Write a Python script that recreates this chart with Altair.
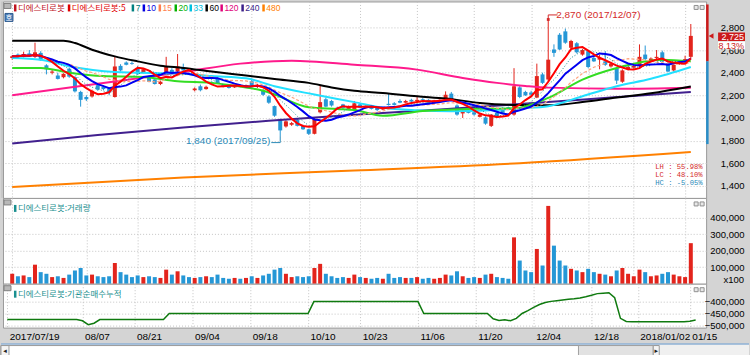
import altair as alt
import pandas as pd

# ---------------- data ----------------
opens = [2530,2560,2540,2570,2540,2575,2465,2400,2375,2360,
         2435,2360,2230,2185,2190,2290,2275,2260,2185,2460,
         2490,2485,2440,2405,2365,2340,2300,2390,2425,2410,
         2450,2425,2245,2280,2255,2315,2345,2290,2285,2270,
         2290,2275,2325,2275,2245,2190,2105,1985,1925,1940,
         1985,1930,1900,1860,2050,2165,2150,2090,2120,2080,
         2070,2120,2090,2100,2095,2075,2125,2130,2150,2135,
         2160,2150,2165,2160,2130,2140,2175,2215,2110,2040,
         2055,2050,2010,2005,1930,2045,2090,2095,2030,2270,
         2230,2225,2180,2385,2340,2605,2735,2765,2620,2660,
         2560,2590,2530,2515,2500,2455,2440,2320,2430,2445,
         2460,2560,2510,2530,2580,2480,2420,2480,2500,2540]
highs = [2555,2570,2585,2600,2665,2590,2475,2425,2400,2395,
         2445,2370,2240,2200,2250,2305,2290,2270,2540,2475,
         2500,2500,2460,2440,2375,2345,2330,2540,2440,2565,
         2480,2435,2270,2295,2285,2325,2360,2300,2295,2290,
         2300,2295,2350,2300,2255,2200,2110,1995,1980,1965,
         1995,1940,1905,2000,2290,2180,2160,2100,2125,2110,
         2150,2130,2110,2110,2105,2095,2215,2140,2165,2160,
         2170,2185,2175,2165,2160,2165,2235,2230,2120,2070,
         2065,2060,2040,2015,2035,2060,2095,2100,2440,2290,
         2240,2240,2480,2400,2870,2650,2750,2790,2690,2670,
         2610,2600,2545,2560,2590,2490,2450,2430,2460,2470,
         2650,2640,2535,2600,2595,2490,2480,2510,2550,2830]
lows = [2515,2540,2535,2540,2530,2505,2385,2385,2340,2350,
        2355,2225,2100,2150,2180,2240,2245,2200,2180,2410,
        2465,2470,2380,2395,2315,2295,2290,2385,2395,2400,
        2415,2400,2235,2235,2250,2290,2300,2270,2260,2265,
        2270,2270,2275,2265,2195,2125,2010,1840,1915,1930,
        1925,1895,1850,1855,2040,2095,2100,2075,2080,2070,
        2060,2085,2080,2075,2060,2070,2110,2110,2130,2130,
        2140,2145,2150,2120,2125,2135,2170,2160,2020,2000,
        2040,2020,2005,1940,1920,2000,2040,2075,2020,2175,
        2195,2195,2175,2300,2320,2540,2600,2655,2610,2570,
        2550,2440,2495,2430,2460,2445,2300,2310,2420,2435,
        2450,2510,2500,2520,2495,2405,2410,2470,2490,2520]
closes = [2545,2545,2565,2545,2580,2510,2430,2410,2345,2390,
          2365,2235,2160,2165,2240,2250,2255,2225,2455,2420,
          2470,2478,2390,2430,2320,2300,2320,2450,2400,2455,
          2420,2405,2260,2245,2275,2300,2305,2275,2265,2285,
          2280,2290,2285,2290,2205,2135,2020,1890,1970,1955,
          1930,1900,1860,1990,2140,2100,2110,2080,2090,2100,
          2130,2090,2100,2080,2070,2085,2115,2115,2135,2150,
          2145,2160,2155,2125,2155,2160,2205,2165,2030,2060,
          2045,2030,2030,1950,2030,2005,2045,2080,2280,2185,
          2200,2205,2370,2310,2515,2575,2605,2665,2680,2580,
          2600,2450,2500,2530,2470,2480,2330,2420,2450,2460,
          2540,2520,2525,2540,2500,2410,2470,2500,2520,2725]
volumes_k = [60,45,50,40,115,70,60,40,45,35,
             55,80,95,50,55,45,40,45,125,70,
             55,40,50,40,45,40,35,85,55,75,
             50,40,35,40,45,40,55,35,30,35,
             30,35,45,35,50,60,85,95,60,40,
             45,40,45,95,120,60,45,35,40,35,
             55,40,35,30,35,30,60,35,40,35,
             35,40,30,35,30,35,55,50,75,45,
             35,40,35,55,60,40,35,30,280,140,
             80,70,210,110,470,230,140,110,90,80,
             70,90,70,60,55,45,80,95,60,45,
             85,70,45,50,60,70,55,45,40,245]
inst_cum = ([-475000] * 13 + [-480000, -496000, -490000] + [-475000] * 12 +
            [-450000] * 25 + [-401000] * 19 + [-450000] * 12 +
            [-472000, -479000, -476000, -480000, -470000] +
            [-450000, -438000, -425000, -413000, -405000, -400000, -397000, -394000,
             -391000, -389000, -386000, -381000, -375000, -368000, -366000, -364000,
             -385000, -470000, -483000] +
            [-484000] * 10 + [-482000, -477000])

# long moving averages (index, value)
ma20_i = [0,5,10,16,23,29,35,41,44,46,52,57,60,65,72,80,88,94,100,106,114,119]
ma20_v = [2442,2442,2400,2370,2362,2324,2310,2270,2240,2207,2095,2080,2070,2020,2062,2080,2085,2177,2339,2442,2515,2500]
ma33_i = [0,5,10,18,30,35,41,46,53,60,65,71,77,83,89,94,100,106,112,119]
ma33_v = [2530,2515,2456,2405,2390,2370,2350,2280,2207,2140,2090,2068,2060,2065,2085,2104,2192,2280,2346,2450]
ma60_i = [0,9,11,14,18,22,26,30,35,41,46,52,56,60,65,71,76,82,89,94,100,106,112,119]
ma60_v = [2682,2682,2662,2603,2544,2500,2462,2442,2410,2375,2345,2310,2270,2240,2221,2192,2172,2133,2114,2112,2140,2180,2218,2278]
ma120_i = [0,14,30,40,49,60,71,79,85,90,94,106,119]
ma120_v = [2201,2295,2405,2480,2506,2471,2427,2354,2310,2283,2268,2258,2268]
ma240_i = [0,15,30,45,60,75,89,105,119]
ma240_v = [1775,1850,1916,1975,2028,2075,2123,2180,2230]
ma480_i = [0,30,60,89,119]
ma480_v = [1390,1475,1535,1600,1699]

price_ticks = [1400, 1600, 1800, 2000, 2200, 2400, 2600, 2800]
vol_ticks = [100000, 200000, 300000, 400000]
inst_ticks = [-500000, -450000, -400000]
date_idx = [0, 13, 22, 32, 42, 52, 61, 71, 81, 91, 101, 109, 118]
date_lbl = ["2017/07/19", "08/07", "08/21", "09/04", "09/18", "10/10", "10/23",
            "11/06", "11/20", "12/04", "12/18", "2018/01/02", "01/15"]
legend_lbl = ["디에스티로봇", "디에스티로봇:5", "7", "10", "15", "20", "33", "60", "120", "240", "480"]
hi_date, lo_date = "2017/12/07", "2017/09/25"
stats = ["LH : 55.98%", "LC : 48.10%", "HC : -5.05%"]

# ---------------- styles ----------------
UP, DN = "#e3241c", "#2597d6"
NUMF = "Liberation Sans Narrow, Liberation Sans, sans-serif"
KF = "Noto Sans CJK KR, sans-serif"
MONO = "Liberation Mono, DejaVu Sans Mono, monospace"
GRID = "#c4c4c4"
W = 705
H_MAIN, H_VOL, H_INST = 197, 86, 44
legend_col = ["#c0121e", "#e00000", "#008080", "#0000e0", "#ff7f50", "#00b000",
              "#00c0e0", "#000000", "#e0007a", "#3a1f8a", "#ff8000"]
legend_x = [11, 65, 129, 140, 156, 172, 187, 203, 218, 239, 260]

N = len(closes)
df = pd.DataFrame({"i": list(range(N)), "o": opens, "h": highs, "l": lows, "c": closes,
                   "v": [k * 1000 for k in volumes_k], "inst": inst_cum})
df["dir"] = ["up" if c >= o else "down" for o, c in zip(opens, closes)]

xs = alt.Scale(domain=[-0.741, 120.81], nice=False, zero=False)
grid_x = alt.Axis(values=date_idx, grid=True, gridDash=[1, 2], gridColor=GRID, labels=False,
                  ticks=False, domain=False, title=None)
X = alt.X("i:Q", scale=xs, axis=grid_x)
dir_color = alt.Color("dir:N", scale=alt.Scale(domain=["up", "down"], range=[UP, DN]), legend=None)


def right_axis(values, fmt=",d"):
    return alt.Axis(orient="right", values=values, format=fmt, grid=True, gridDash=[1, 2],
                    gridColor=GRID, ticks=False, domain=False, labelAlign="right",
                    labelBaseline="middle", labelPadding=38, labelFont=NUMF, labelFontSize=9.5,
                    labelColor="#000000", labelOverlap=False, labelBound=False,
                    labelFlush=False, title=None)


py_scale = alt.Scale(domain=[1293.4, 3029.1], nice=False, zero=False)
py_axis = right_axis(price_ticks)


def PY(f):
    return alt.Y(f + ":Q", scale=py_scale, axis=py_axis)


one = pd.DataFrame({"k": [0]})


def prect(x1, x2, y1, y2, fill, stroke=None):
    kw = dict(fill=fill)
    if stroke:
        kw.update(stroke=stroke, strokeWidth=1)
    return alt.Chart(one).mark_rect(**kw).encode(
        x=alt.value(x1), x2=alt.value(x2), y=alt.value(y1), y2=alt.value(y2))


def ptext(t, x, y, color, size=9, font=NUMF, align="left", baseline="middle"):
    return alt.Chart(one).mark_text(text=t, align=align, baseline=baseline, font=font,
                                    fontSize=size, color=color).encode(
        x=alt.value(x), y=alt.value(y))


base = alt.Chart(df)

# ---------------- main panel ----------------
main_layers = [
    base.mark_rule(strokeWidth=1).encode(x=X, y=PY("l"), y2="h:Q", color=dir_color),
    base.mark_bar(size=4).encode(x=X, y=PY("o"), y2="c:Q", color=dir_color),
]


def knot_line(iv, vv, color, width=2.0):
    d = pd.DataFrame({"i": iv, "m": vv})
    return alt.Chart(d).mark_line(color=color, strokeWidth=width, interpolate="monotone").encode(
        x=X, y=PY("m"))


def ma_line(n, color, width=2.0, dash=None):
    kw = dict(color=color, strokeWidth=width)
    if dash:
        kw["strokeDash"] = dash
    return base.transform_window(m="mean(c)", frame=[-(n - 1), 0],
                                 sort=[alt.SortField("i")]).mark_line(**kw).encode(x=X, y=PY("m"))


main_layers += [
    knot_line(ma480_i, ma480_v, "#ff8000"),
    knot_line(ma240_i, ma240_v, "#41208e"),
    knot_line(ma120_i, ma120_v, "#ff1a8c"),
    knot_line(ma60_i, ma60_v, "#000000"),
    knot_line(ma33_i, ma33_v, "#22e0ff"),
    knot_line(ma20_i, ma20_v, "#33dd22"),
    ma_line(15, "#ffa07a", 1.2, [3, 2]),
    ma_line(7, "#1a8f8f", 1.0, [1, 2]),
    ma_line(10, "#0000f0", 2.0),
    ma_line(5, "#ff0000", 2.0),
]

# high / low annotations
hi_row = df.loc[df["h"].idxmax()]
lo_row = df.loc[df["l"].idxmin()]
hi_df = pd.DataFrame({"i": [int(hi_row["i"])], "p": [float(hi_row["h"])],
                      "t": [f"{int(hi_row['h']):,} ({hi_date})"]})
lo_df = pd.DataFrame({"i": [int(lo_row["i"])], "p": [float(lo_row["l"])],
                      "t": [f"{int(lo_row['l']):,} ({lo_date})"]})
HIC, LOC = "#d42a2a", "#2a8ab8"
main_layers += [
    alt.Chart(hi_df).mark_rule(color=HIC).encode(x=X, y=PY("p"), y2=alt.value(13.5)),
    alt.Chart(hi_df).mark_rule(color=HIC).encode(x=X, x2=alt.value(556), y=alt.value(13.5)),
    alt.Chart(hi_df).mark_square(color=HIC, size=8, opacity=1).encode(x=X, y=PY("p")),
    alt.Chart(hi_df).mark_text(align="left", baseline="middle", dx=8, dy=-4, font=NUMF,
                               fontSize=10, color=HIC).encode(x=X, y=PY("p"), text="t:N"),
    alt.Chart(lo_df).mark_rule(color=LOC).encode(x=X, y=PY("p"), y2=alt.value(141.5)),
    alt.Chart(lo_df).mark_rule(color=LOC).encode(x=X, x2=alt.value(269), y=alt.value(141.5)),
    alt.Chart(lo_df).mark_text(align="right", baseline="middle", dx=-10, dy=5, font=NUMF,
                               fontSize=10, color=LOC).encode(x=X, y=PY("p"), text="t:N"),
]

# legend header inside the main panel
main_layers.append(prect(1, 8, 2, 7, "#b8b8b8", "#808080"))
for lbl, col, lx in zip(legend_lbl, legend_col, legend_x):
    main_layers.append(prect(lx, lx + 2.5, 3, 10, col))
    main_layers.append(ptext(lbl, lx + 4, 6.8, col, size=8.5,
                             font=KF if not lbl.isdigit() else NUMF))
main_layers.append(prect(2, 10, 12, 20, "#4f7fb8", "#2d5a8e"))
main_layers.append(ptext("호", 6, 16.2, "#ffffff", size=7, font=KF, align="center"))
# panel buttons
main_layers.append(prect(693, 697, 4, 8, "#e8e8e8", "#909090"))
main_layers.append(prect(699, 703, 4, 8, "#e8e8e8", "#909090"))
# LH / LC / HC
for t, yy, col in zip(stats, [166, 174, 182.3], [HIC, HIC, LOC]):
    main_layers.append(ptext(t, 654, yy, col, size=7.2, font=MONO))

# right side: range bar, current price tag
main_layers.append(prect(705, 707.5, 3, 60, "#cc1a1a"))
main_layers.append(prect(705, 707.5, 60, 143, "#2a8ec8"))
last = pd.DataFrame({"c": [closes[-1]], "top": [closes[-1] + 30], "bot": [closes[-1] - 45],
                     "wt": [closes[-1] - 50], "wb": [closes[-1] - 118],
                     "t": [f"{closes[-1]:,}"],
                     "pct": [f"{(closes[-1] / closes[-2] - 1) * 100:.2f}%"]})
lc = alt.Chart(last)
main_layers += [
    lc.mark_rect(fill="#ffffff").encode(x=alt.value(717), x2=alt.value(744), y=PY("wt"), y2="wb:Q"),
    lc.mark_rect(fill="#cc1a1a").encode(x=alt.value(717), x2=alt.value(744), y=PY("top"), y2="bot:Q"),
    lc.mark_text(align="right", baseline="middle", font=NUMF, fontSize=9, color="#ffffff", dy=1).encode(
        x=alt.value(743), y=PY("c"), text="t:N"),
    lc.mark_text(align="right", baseline="middle", font=NUMF, fontSize=9, color="#cc1a1a", dy=10.5).encode(
        x=alt.value(743), y=PY("c"), text="pct:N"),
    lc.mark_point(shape="triangle-left", filled=True, size=30, color="#cc1a1a", opacity=1).encode(
        x=alt.value(710), y=PY("c")),
    prect(-2, 0, 0, 197, "#c8c8c8"),
    prect(745, 748, 0, 10, "#d4d4d4"),
]
main = alt.layer(*main_layers).properties(width=W, height=H_MAIN)

# ---------------- volume panel ----------------
vy_scale = alt.Scale(domain=[0, 518072], nice=False, zero=False)
vol_layers = [
    base.mark_bar(size=4).encode(x=X, y=alt.Y("v:Q", scale=vy_scale, axis=right_axis(vol_ticks)),
                                 color=dir_color),
    prect(1, 8, 2, 7, "#b8b8b8", "#808080"),
    prect(11, 13.5, 7, 14, "#1a8f8f"),
    ptext("디에스티로봇:거래량", 15, 10.5, "#1a8f8f", size=8.5, font=KF),
    ptext("x100", 743, 82, "#000000", size=9.5, align="right"),
    prect(693, 697, 4, 8, "#e8e8e8", "#909090"),
    prect(699, 703, 4, 8, "#e8e8e8", "#909090"),
]
vol = alt.layer(*vol_layers).properties(width=W, height=H_VOL)

# ---------------- institution panel ----------------
lbl_expr = "".join(f"datum.value == {i} ? '{l}' : " for i, l in zip(date_idx, date_lbl)) + "''"
bottom_x = alt.Axis(values=date_idx, labelExpr=lbl_expr, grid=True, gridDash=[1, 2], gridColor=GRID,
                    ticks=False, domain=False, labelAlign="left", labelBaseline="top",
                    labelPadding=4, labelOffset=2, labelFont=NUMF, labelFontSize=10,
                    labelColor="#000000", labelOverlap=False, labelBound=False,
                    labelFlush=False, title=None)
iy_scale = alt.Scale(domain=[-508230, -327160], nice=False, zero=False)
inst_layers = [
    base.mark_line(color="#0f7a0f", strokeWidth=1.5).encode(
        x=alt.X("i:Q", scale=xs, axis=bottom_x),
        y=alt.Y("inst:Q", scale=iy_scale, axis=right_axis(inst_ticks))),
    prect(1, 8, 2, 7, "#b8b8b8", "#808080"),
    prect(11, 13.5, 7, 14, "#1a8f8f"),
    ptext("디에스티로봇:기관순매수누적", 15, 10.5, "#1a8f8f", size=8.5, font=KF),
    prect(693, 697, 4, 8, "#e8e8e8", "#909090"),
    prect(699, 703, 4, 8, "#e8e8e8", "#909090"),
    # scroll bar
    prect(-2, 748, 61, 72, "#f0f0f0"),
    prect(-2, 657, 62, 72, "#ffffff", "#9a9a9a"),
    prect(-2, 6, 62, 72, "#f4f4f4", "#9a9a9a"),
    ptext("◂", 2, 67, "#202020", size=7, font="DejaVu Sans", align="center"),
    prect(577, 652, 62, 72, "#e2e2e2", "#a0a0a0"),
    prect(652, 658, 62, 72, "#f4f4f4", "#9a9a9a"),
    ptext("▸", 655, 67, "#202020", size=7, font="DejaVu Sans", align="center"),
    prect(-2, 748, 60, 61, "#6d9fd6"),
]
inst = alt.layer(*inst_layers).properties(width=W, height=H_INST)

chart = alt.vconcat(main, vol, inst, spacing=0, bounds="flush").properties(
    background="#d4d4d4", padding=0
).configure_view(stroke="#9a9a9a", strokeWidth=1, fill="#ffffff")

chart.save("out.html", embed_options={"renderer": "svg", "actions": False})
